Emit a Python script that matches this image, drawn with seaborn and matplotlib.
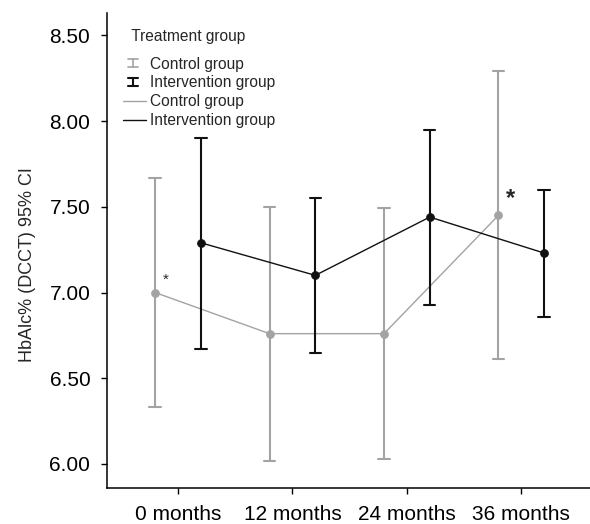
import numpy as np
import pandas as pd
import matplotlib
matplotlib.use("Agg")
import matplotlib.pyplot as plt
from matplotlib.lines import Line2D
from matplotlib.legend_handler import HandlerBase
from matplotlib.ticker import FormatStrFormatter
import seaborn as sns

# ---- data ----
times = ["0 months", "12 months", "24 months", "36 months"]
groups = ["Control group", "Intervention group"]
control_mean = [7.00, 6.76, 6.76, 7.45]
control_lo = [6.33, 6.02, 6.03, 6.61]
control_hi = [7.67, 7.50, 7.49, 8.29]
interv_mean = [7.29, 7.10, 7.44, 7.23]
interv_lo = [6.67, 6.65, 6.93, 6.86]
interv_hi = [7.90, 7.55, 7.95, 7.60]
yticks = [6.00, 6.50, 7.00, 7.50, 8.00, 8.50]

rows = []
for g, m, lo, hi in [(groups[0], control_mean, control_lo, control_hi),
                     (groups[1], interv_mean, interv_lo, interv_hi)]:
    for t, a, b, c in zip(times, lo, m, hi):
        for v in (a, b, c):
            rows.append({"time": t, "group": g, "value": v})
df = pd.DataFrame(rows)

sns.set_style("ticks")
plt.rcParams["font.family"] = ["Liberation Sans", "DejaVu Sans"]

c_ctrl = "#a3a3a3"
c_int = "#111111"
palette = {groups[0]: c_ctrl, groups[1]: c_int}

fig = plt.figure(figsize=(5.9, 5.24), dpi=100)
ax = fig.add_axes([107 / 590, 36 / 524, 483 / 590, 475 / 524])

sns.pointplot(data=df, x="time", y="value", hue="group", order=times,
              hue_order=groups, palette=palette,
              estimator=np.median,
              errorbar=lambda v: (np.min(v), np.max(v)),
              dodge=0.4, capsize=0.1, legend=False,
              linewidth=1.0, markersize=5.5,
              err_kws={"linewidth": 1.5}, ax=ax)
# error bars of the intervention group are a touch lighter than its line
for ln in ax.lines:
    if matplotlib.colors.to_hex(ln.get_color()) == c_int and len(ln.get_xdata()) == 2:
        ln.set_color("#2e2e2e")

ax.set_ylim(5.86, 8.63)
ax.set_xlim(-0.62, 3.6)
ax.set_yticks(yticks)
ax.yaxis.set_major_formatter(FormatStrFormatter("%.2f"))
ax.set_xlabel("")
ax.set_ylabel("HbAlc% (DCCT) 95% CI", fontsize=13)
ax.yaxis.set_label_coords(-0.146, 0.47)
ax.tick_params(axis="both", labelsize=15, length=4.5, width=1, color="black",
               labelcolor="black")
ax.tick_params(axis="y", pad=7.5)
ax.tick_params(axis="x", pad=7.5)
for s in ["top", "right"]:
    ax.spines[s].set_visible(False)
for s in ["left", "bottom"]:
    ax.spines[s].set_linewidth(1.1)
    ax.spines[s].set_color("black")

# significance markers
ax.annotate("*", xy=(0 - 0.2, control_mean[0]), xytext=(11, 13),
            textcoords="offset pixels", fontsize=11, ha="center", va="center")
ax.annotate("*", xy=(3 - 0.2, control_mean[3]), xytext=(12, 17),
            textcoords="offset pixels", fontsize=17, fontweight="bold",
            ha="center", va="center")


class HandlerIBeam(HandlerBase):
    def create_artists(self, legend, orig_handle, xdescent, ydescent,
                       width, height, fontsize, trans):
        col = orig_handle.get_color()
        lw = orig_handle.get_linewidth()
        cx = -xdescent + width * 0.42
        cy = -ydescent + height / 2
        h = 3.0
        w = 3.5
        arts = [Line2D([cx, cx], [cy - h, cy + h], color=col, lw=lw),
                Line2D([cx - w, cx + w], [cy - h, cy - h], color=col, lw=lw),
                Line2D([cx - w, cx + w], [cy + h, cy + h], color=col, lw=lw)]
        for a in arts:
            a.set_transform(trans)
        return arts


class IBeam(Line2D):
    pass


h1 = IBeam([], [], color=c_ctrl, lw=1.2)
h2 = IBeam([], [], color=c_int, lw=1.5)
h3 = Line2D([], [], color=c_ctrl, lw=1.0)
h4 = Line2D([], [], color=c_int, lw=1.0)
leg = ax.legend([h1, h2, h3, h4], groups + groups, title="  Treatment group",
                handler_map={IBeam: HandlerIBeam()},
                loc="upper left", bbox_to_anchor=(123 / 590, 1 - 29 / 524),
                bbox_transform=fig.transFigure, frameon=False, fontsize=11.2,
                title_fontsize=11.2, borderpad=0, borderaxespad=0,
                labelspacing=0.25, handlelength=1.48, handletextpad=0.25,
                alignment="left")
leg._legend_box.sep = 9

fig.savefig("out.png", dpi=100)
